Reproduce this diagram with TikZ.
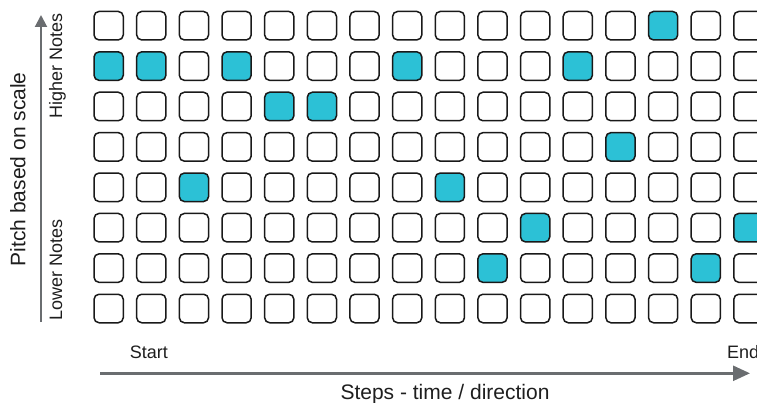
\documentclass[tikz,border=0pt]{standalone}
\usepackage{fontspec}
\setmainfont{Liberation Sans}
\usetikzlibrary{arrows.meta}
\definecolor{cellfill}{RGB}{44,193,214}
\definecolor{axisgray}{RGB}{106,109,112}
\definecolor{txt}{RGB}{30,30,30}
\tikzset{
  cell/.style={draw=black!90, line width=1.5pt, rounded corners=5pt, fill=white,
    minimum width=29.2pt, minimum height=28.5pt, inner sep=0pt},
  on/13/0/.style={fill=cellfill},
  on/0/1/.style={fill=cellfill},
  on/1/1/.style={fill=cellfill},
  on/3/1/.style={fill=cellfill},
  on/7/1/.style={fill=cellfill},
  on/11/1/.style={fill=cellfill},
  on/4/2/.style={fill=cellfill},
  on/5/2/.style={fill=cellfill},
  on/12/3/.style={fill=cellfill},
  on/2/4/.style={fill=cellfill},
  on/8/4/.style={fill=cellfill},
  on/10/5/.style={fill=cellfill},
  on/15/5/.style={fill=cellfill},
  on/9/6/.style={fill=cellfill},
  on/14/6/.style={fill=cellfill},
  lbl/.style={text=txt, inner sep=0pt, font=\fontsize{18}{20}\selectfont},
  ttl/.style={text=txt, inner sep=0pt, font=\fontsize{21}{24}\selectfont},
  axis/.style={draw=axisgray, line width=2.2pt},
}
\begin{document}
\begin{tikzpicture}[x=1pt,y=1pt]
\useasboundingbox (0,0) rectangle (757,-403);
\foreach \c in {0,...,15}{
  \foreach \r in {0,...,7}{
    \node[cell, on/\c/\r/.try] (c-\c-\r) at ({108.65+42.65*\c},{-25.7-40.4*\r}) {};
  }
}
% vertical axis
\coordinate (vbot) at (41,-322);
\coordinate (vtop) at (41,-15);
\draw[axis, line width=2pt, -{Triangle[length=12pt,width=12pt]}] (vbot) -- (vtop);
% horizontal axis
\coordinate (hleft) at (100,-373.3);
\coordinate (hright) at (750,-373.3);
\draw[axis, line width=2.5pt, -{Triangle[length=17pt,width=15pt]}] (hleft) -- (hright);
% labels
\node[ttl, rotate=90, anchor=base] (pitch) at (25.3,-169.3) {Pitch based on scale};
\node[lbl, rotate=90, anchor=base] (higher) at (62,-65.5) {Higher Notes};
\node[lbl, rotate=90, anchor=base] (lower) at (62,-270) {Lower Notes};
\node[lbl, anchor=base] (start) at (148.8,-358.3) {Start};
\node[lbl, anchor=base west] (end) at (727,-358.3) {End};
\node[ttl, anchor=base] (steps) at (445,-399.3) {Steps - time / direction};
\end{tikzpicture}
\end{document}
